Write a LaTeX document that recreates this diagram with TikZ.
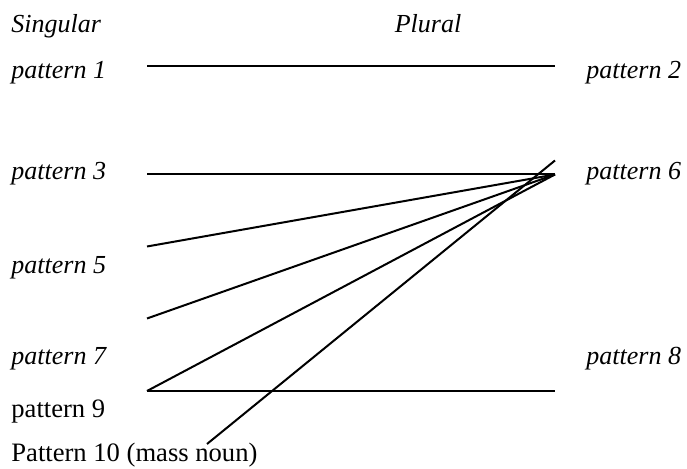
\documentclass[tikz,border=0pt]{standalone}
\usepackage{fontspec}
\setmainfont{Liberation Serif}
\begin{document}
\begin{tikzpicture}[x=0.5pt,y=-0.5pt,
  lbl/.style={anchor=base west,inner sep=0pt,font=\fontsize{13pt}{15pt}\selectfont\itshape},
  lblup/.style={anchor=base west,inner sep=0pt,font=\fontsize{13.3pt}{15pt}\selectfont},
  head/.style={anchor=base,inner sep=0pt,font=\fontsize{13pt}{15pt}\selectfont\itshape},
  link/.style={line width=1pt,black}]
\path[use as bounding box] (0,0) rectangle (687,469);
% labels
\node[lbl] (sing) at (11,33) {Singular};
\node[head] (plur) at (428,33) {Plural};
\node[lbl] (p1) at (11,79) {pattern 1};
\node[lbl] (p3) at (11,180) {pattern 3};
\node[lbl] (p5) at (11,274) {pattern 5};
\node[lbl] (p7) at (11,365) {pattern 7};
\node[lblup] (p9) at (11,418) {pattern 9};
\node[lblup] (p10) at (11,462) {Pattern 10 (mass noun)};
\node[lbl] (p2) at (586,79) {pattern 2};
\node[lbl] (p6) at (586,180) {pattern 6};
\node[lbl] (p8) at (586,365) {pattern 8};
% line end points
\coordinate (a1) at (147,66);
\coordinate (b2) at (555,66);
\coordinate (a3) at (147,174.5);
\coordinate (b6) at (555,174.5);
\coordinate (a5) at (147,246.5);
\coordinate (a5b) at (147,318.5);
\coordinate (a7) at (147,391);
\coordinate (b8) at (555,391);
\coordinate (a10) at (207,444);
\coordinate (b6t) at (555,160.5);
% connectors
\draw[link] (a1) -- (b2);
\draw[link] (a3) -- (b6);
\draw[link] (a5) -- (b6);
\draw[link] (a5b) -- (b6);
\draw[link] (a7) -- (b6);
\draw[link] (a7) -- (b8);
\draw[link] (a10) -- (b6t);
\end{tikzpicture}
\end{document}
